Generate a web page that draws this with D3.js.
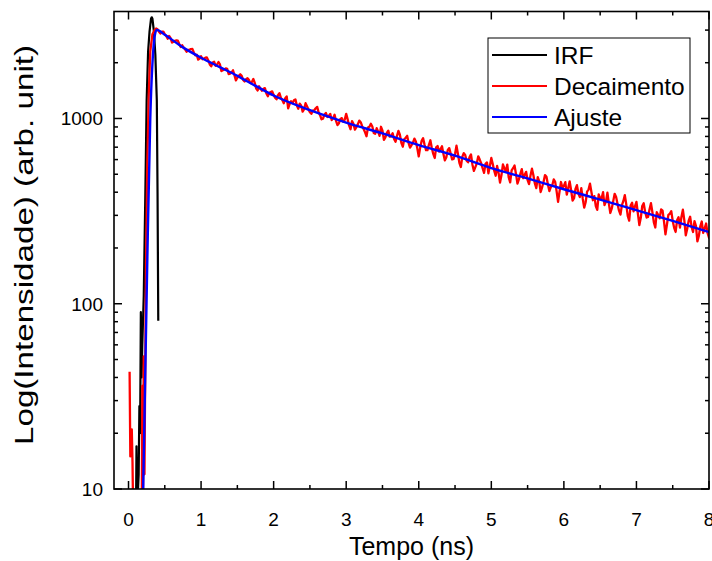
<!DOCTYPE html>
<html>
<head>
<meta charset="utf-8">
<script src="https://cdn.jsdelivr.net/npm/d3@7"></script>
<style>
  body { margin: 0; background: #fff; }
  text { font-family: "Liberation Sans", Arial, sans-serif; fill: #000; }
</style>
</head>
<body>
<div id="chart"></div>
<script>
// IRF (instrument response)
let irfTime = [0.10, 0.11, 0.12, 0.14, 0.15, 0.16, 0.17, 0.18, 0.19, 0.21, 0.23, 0.25, 0.27, 0.29, 0.31, 0.32, 0.33, 0.35, 0.37, 0.39, 0.40, 0.41];
let irfCounts = [5, 17, 8, 12, 28, 20, 90, 40, 60, 110, 350, 1250, 2300, 2950, 3450, 3515, 3450, 2950, 2200, 1250, 400, 81];

// Decaimento (measured decay), [tempo ns, contagens]
let decay = [
  [0.015,43],[0.025,15],[0.045,21],[0.055,14],[0.07,5],[0.10,3],[0.13,6],[0.16,4],[0.18,4],[0.19,36],
  [0.20,9],[0.21,52],[0.22,12],[0.24,150],[0.26,600],[0.28,1400],[0.30,2300],[0.33,2850],[0.36,3000],[0.38,3060],
  [0.40,3029],[0.42,2940],[0.44,2876],[0.46,2944],[0.48,2944],[0.50,2845],[0.52,2786],[0.54,2696],[0.56,2791],[0.58,2716],
  [0.60,2569],[0.62,2596],[0.64,2628],[0.66,2640],[0.68,2632],[0.70,2525],[0.72,2431],[0.74,2485],[0.76,2411],[0.78,2362],
  [0.80,2291],[0.82,2344],[0.84,2348],[0.86,2371],[0.88,2374],[0.90,2272],[0.92,2193],[0.94,2208],[0.96,2078],[0.98,2106],
  [1.00,2169],[1.02,2089],[1.04,2103],[1.06,2131],[1.08,2137],[1.10,2059],[1.12,1957],[1.14,1914],[1.16,2004],[1.18,2024],
  [1.20,1924],[1.22,1956],[1.24,2018],[1.26,1958],[1.28,1802],[1.30,1821],[1.32,1840],[1.34,1864],[1.36,1853],[1.38,1738],
  [1.40,1746],[1.42,1775],[1.44,1820],[1.46,1715],[1.48,1607],[1.50,1659],[1.52,1699],[1.54,1731],[1.56,1699],[1.58,1614],
  [1.60,1583],[1.62,1629],[1.64,1649],[1.66,1612],[1.68,1552],[1.70,1572],[1.72,1634],[1.74,1556],[1.76,1450],[1.78,1417],
  [1.80,1493],[1.82,1446],[1.84,1413],[1.86,1445],[1.88,1458],[1.90,1363],[1.92,1319],[1.94,1376],[1.96,1389],[1.98,1401],
  [2.00,1341],[2.02,1294],[2.04,1269],[2.06,1337],[2.08,1370],[2.10,1292],[2.12,1258],[2.14,1208],[2.16,1285],[2.18,1316],
  [2.20,1133],[2.22,1194],[2.24,1239],[2.26,1210],[2.28,1254],[2.30,1268],[2.32,1175],[2.34,1128],[2.36,1203],[2.38,1172],
  [2.40,1089],[2.42,1123],[2.44,1210],[2.46,1164],[2.48,1120],[2.50,1081],[2.52,1060],[2.54,1102],[2.56,1108],[2.58,1136],
  [2.60,1155],[2.62,1079],[2.64,1043],[2.66,990],[2.68,997],[2.70,1048],[2.72,1071],[2.74,1019],[2.76,1033],[2.78,1059],
  [2.80,980],[2.82,1002],[2.84,1048],[2.86,970],[2.88,921],[2.90,943],[2.92,995],[2.94,1005],[2.96,960],[2.98,986],
  [3.00,1060],[3.02,989],[3.04,917],[3.06,875],[3.08,968],[3.10,935],[3.12,870],[3.14,898],[3.16,929],[3.18,974],
  [3.20,955],[3.22,909],[3.24,878],[3.26,842],[3.28,802],[3.30,894],[3.32,903],[3.34,936],[3.36,905],[3.38,836],
  [3.40,827],[3.42,886],[3.44,852],[3.46,805],[3.48,902],[3.50,859],[3.52,767],[3.54,791],[3.56,836],[3.58,860],
  [3.60,798],[3.62,801],[3.64,833],[3.66,776],[3.68,749],[3.70,806],[3.72,857],[3.74,817],[3.76,739],[3.78,704],
  [3.80,772],[3.82,787],[3.84,806],[3.86,737],[3.88,696],[3.90,718],[3.92,740],[3.94,779],[3.96,752],[3.98,690],
  [4.00,624],[4.02,698],[4.04,758],[4.06,783],[4.08,721],[4.10,675],[4.12,675],[4.14,721],[4.16,763],[4.18,693],
  [4.20,644],[4.22,612],[4.24,698],[4.26,710],[4.28,663],[4.30,683],[4.32,708],[4.34,644],[4.36,594],[4.38,618],
  [4.40,677],[4.42,692],[4.44,647],[4.46,601],[4.48,605],[4.50,643],[4.52,714],[4.54,643],[4.56,576],[4.58,547],
  [4.60,620],[4.62,650],[4.64,635],[4.66,591],[4.68,580],[4.70,619],[4.72,640],[4.74,563],[4.76,521],[4.78,546],
  [4.80,573],[4.82,625],[4.84,600],[4.86,573],[4.88,539],[4.90,509],[4.92,569],[4.94,579],[4.96,506],[4.98,556],
  [5.00,612],[5.02,567],[5.04,523],[5.06,491],[5.08,555],[5.10,508],[5.12,451],[5.14,495],[5.16,565],[5.18,538],
  [5.20,520],[5.22,564],[5.24,480],[5.26,452],[5.28,524],[5.30,539],[5.32,557],[5.34,502],[5.36,445],[5.38,469],
  [5.40,502],[5.42,533],[5.44,476],[5.46,497],[5.48,515],[5.50,465],[5.52,442],[5.54,493],[5.56,536],[5.58,494],
  [5.60,446],[5.62,421],[5.64,483],[5.66,458],[5.68,401],[5.70,425],[5.72,456],[5.74,495],[5.76,485],[5.78,440],
  [5.80,406],[5.82,426],[5.84,436],[5.86,469],[5.88,455],[5.90,404],[5.92,355],[5.94,403],[5.96,454],[5.98,423],
  [6.00,432],[6.02,453],[6.04,388],[6.06,421],[6.08,458],[6.10,410],[6.12,360],[6.14,371],[6.16,417],[6.18,437],
  [6.20,394],[6.22,376],[6.24,421],[6.26,369],[6.28,330],[6.30,353],[6.32,403],[6.34,413],[6.36,445],[6.38,400],
  [6.40,362],[6.42,381],[6.44,337],[6.46,321],[6.48,389],[6.50,370],[6.52,371],[6.54,400],[6.56,341],[6.58,356],
  [6.60,398],[6.62,347],[6.64,309],[6.66,327],[6.68,358],[6.70,392],[6.72,377],[6.74,345],[6.76,318],[6.78,303],
  [6.80,341],[6.82,359],[6.84,386],[6.86,344],[6.88,298],[6.90,281],[6.92,339],[6.94,351],[6.96,315],[6.98,336],
  [7.00,355],[7.02,307],[7.04,266],[7.06,291],[7.08,337],[7.10,349],[7.12,313],[7.14,292],[7.16,294],[7.18,323],
  [7.20,349],[7.22,312],[7.24,275],[7.26,258],[7.28,312],[7.30,301],[7.32,289],[7.34,323],[7.36,318],[7.38,278],
  [7.40,237],[7.42,267],[7.44,302],[7.46,306],[7.48,316],[7.50,280],[7.52,257],[7.54,244],[7.56,282],[7.58,293],
  [7.60,258],[7.62,294],[7.64,322],[7.66,282],[7.68,234],[7.70,254],[7.72,281],[7.74,295],[7.76,260],[7.78,244],
  [7.80,279],[7.82,263],[7.84,217],[7.86,232],[7.88,262],[7.90,278],[7.92,241],[7.94,255],[7.96,271],[7.98,241],
  [8.00,227],[8.02,255],[8.04,263]
];

// Ajuste (fit)
let fitTime = [0.20, 0.23, 0.26, 0.30, 0.34, 0.37, 0.39, 0.5, 0.75, 1.0, 1.25, 1.5, 1.75, 2.0, 2.5, 3.0, 3.5, 4.0, 4.5, 5.0, 5.5, 6.0, 6.5, 7.0, 7.5, 8.0];
let fitCounts = [9, 40, 180, 1000, 2300, 2900, 3010, 2830, 2420, 2128, 1900, 1698, 1500, 1330, 1109, 951, 830, 719, 630, 540, 475, 415, 365, 320, 280, 244];

let xMajor = [0, 1, 2, 3, 4, 5, 6, 7, 8];
let xMinor = [0.5, 1.5, 2.5, 3.5, 4.5, 5.5, 6.5, 7.5];
let yMajor = [10, 100, 1000];
let yMinor = [20, 30, 40, 50, 60, 70, 80, 90, 200, 300, 400, 500, 600, 700, 800, 900, 2000, 3000];

let legendNames = ["IRF", "Decaimento", "Ajuste"];
let legendColors = ["#000000", "#ff0000", "#0000ff"];

////////////////////////////////////////////////////////////////////////
let width = 712, height = 561;
let plotLeft = 114, plotRight = 709, plotTop = 11.5, plotBottom = 489;

let xScale = d3.scaleLinear().domain([-0.2, 8]).range([plotLeft, plotRight]);
let yScale = d3.scaleLog().domain([10, 3780]).range([plotBottom, plotTop]);

let svg = d3.select("#chart").append("svg")
  .attr("width", width)
  .attr("height", height);

svg.append("clipPath").attr("id", "plotclip")
  .append("rect")
  .attr("x", plotLeft).attr("y", plotTop)
  .attr("width", plotRight - plotLeft).attr("height", plotBottom - plotTop);

let plot = svg.append("g").attr("clip-path", "url(#plotclip)");

let line = d3.line()
  .x(d => xScale(d[0]))
  .y(d => yScale(Math.max(d[1], 1)));

plot.append("path")
  .datum(d3.zip(irfTime, irfCounts))
  .attr("d", line)
  .attr("fill", "none")
  .attr("stroke", legendColors[0])
  .attr("stroke-width", 2.2)
  .attr("stroke-linejoin", "round");

plot.append("path")
  .datum(decay)
  .attr("d", line)
  .attr("fill", "none")
  .attr("stroke", legendColors[1])
  .attr("stroke-width", 2.3)
  .attr("stroke-linejoin", "round");

plot.append("path")
  .datum(d3.zip(fitTime, fitCounts))
  .attr("d", line.curve(d3.curveMonotoneX))
  .attr("fill", "none")
  .attr("stroke", legendColors[2])
  .attr("stroke-width", 2.4);

// frame
svg.append("rect")
  .attr("x", plotLeft).attr("y", plotTop)
  .attr("width", plotRight - plotLeft).attr("height", plotBottom - plotTop)
  .attr("fill", "none")
  .attr("stroke", "black")
  .attr("stroke-width", 1.6);

// inward ticks on all four sides
let ticks = svg.append("g").attr("stroke", "black").attr("stroke-width", 1.5);
function xTicks(vals, len) {
  vals.forEach(v => {
    ticks.append("line").attr("x1", xScale(v)).attr("x2", xScale(v)).attr("y1", plotBottom).attr("y2", plotBottom - len);
    ticks.append("line").attr("x1", xScale(v)).attr("x2", xScale(v)).attr("y1", plotTop).attr("y2", plotTop + len);
  });
}
function yTicks(vals, len) {
  vals.forEach(v => {
    ticks.append("line").attr("y1", yScale(v)).attr("y2", yScale(v)).attr("x1", plotLeft).attr("x2", plotLeft + len);
    ticks.append("line").attr("y1", yScale(v)).attr("y2", yScale(v)).attr("x1", plotRight).attr("x2", plotRight - len);
  });
}
xTicks(xMajor, 8);
xTicks(xMinor, 4);
yTicks(yMajor, 8);
yTicks(yMinor, 4);

// tick labels
svg.append("g").selectAll("text")
  .data(xMajor).enter().append("text")
  .attr("x", d => xScale(d))
  .attr("y", 526)
  .attr("text-anchor", "middle")
  .style("font-size", "19px")
  .text(d => d);

svg.append("g").selectAll("text")
  .data(yMajor).enter().append("text")
  .attr("x", 103)
  .attr("y", d => yScale(d))
  .attr("dy", "0.36em")
  .attr("text-anchor", "end")
  .style("font-size", "19px")
  .text(d => d);

// axis titles
svg.append("text")
  .attr("x", (plotLeft + plotRight) / 2)
  .attr("y", 555)
  .attr("text-anchor", "middle")
  .style("font-size", "25px")
  .text("Tempo (ns)");

svg.append("text")
  .attr("transform", "translate(33,245) rotate(-90)")
  .attr("text-anchor", "middle")
  .attr("textLength", 400)
  .attr("lengthAdjust", "spacingAndGlyphs")
  .style("font-size", "25.5px")
  .text("Log(Intensidade) (arb. unit)");

// legend
let legend = svg.append("g");
legend.append("rect")
  .attr("x", 488).attr("y", 38)
  .attr("width", 202).attr("height", 95)
  .attr("fill", "white")
  .attr("stroke", "black")
  .attr("stroke-width", 1);

let rowY = d3.scalePoint().domain(legendNames).range([55, 117]);
legendNames.forEach((name, i) => {
  legend.append("line")
    .attr("x1", 492).attr("x2", 547)
    .attr("y1", rowY(name)).attr("y2", rowY(name))
    .attr("stroke", legendColors[i])
    .attr("stroke-width", 2);
  legend.append("text")
    .attr("x", 554)
    .attr("y", rowY(name))
    .attr("dy", "0.36em")
    .style("font-size", "24.5px")
    .text(name);
});
</script>
</body>
</html>
